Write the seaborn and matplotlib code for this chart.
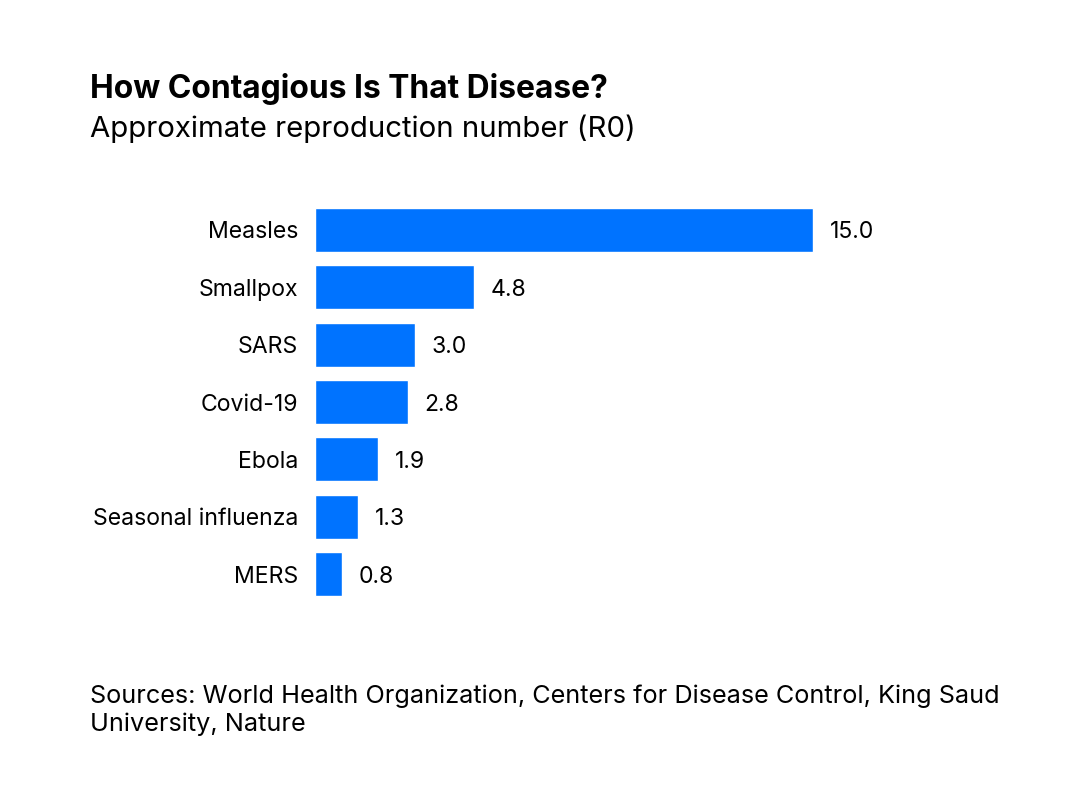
import matplotlib
matplotlib.use("Agg")
import seaborn as sns
import matplotlib.pyplot as plt
import pandas as pd

# data
diseases = ["Measles", "Smallpox", "SARS", "Covid-19", "Ebola", "Seasonal influenza", "MERS"]
r0 = [15.0, 4.8, 3.0, 2.8, 1.9, 1.3, 0.8]

title = "How Contagious Is That Disease?"
subtitle = "Approximate reproduction number (R0)"
source_lines = ["Sources: World Health Organization, Centers for Disease Control, King Saud",
                "University, Nature"]

sns.set_theme(style="white")
plt.rcParams['font.family'] = ['Inter', 'DejaVu Sans']
plt.rcParams['text.color'] = 'black'

df = pd.DataFrame({"disease": diseases, "r0": r0})

W, H = 1088, 805
fig = plt.figure(figsize=(W / 100, H / 100), dpi=100)
# axes placed in pixel coords
left, right, top, bottom = 315, 979, 201.3, 602.7
ax = fig.add_axes([left / W, 1 - bottom / H, (right - left) / W, (bottom - top) / H])

sns.barplot(data=df, x="r0", y="disease", orient="h", color="#0073FF",
            saturation=1, width=0.767, ax=ax)

for i, v in enumerate(r0):
    ax.annotate(f"{v:.1f}", (v, i), xytext=(12, 0), textcoords="offset points",
                va="center_baseline", ha="left", fontsize=16.6, color="black")

ax.set_xlim(0, 20)
ax.set_ylim(6.5, -0.5)
ax.set_xlabel("")
ax.set_ylabel("")
ax.set_xticks([])
ax.tick_params(axis="y", length=0, pad=12, labelsize=16.6, labelcolor="black")
for s in ax.spines.values():
    s.set_visible(False)

fig.text(90 / W, 1 - 98 / H, title, fontsize=22.9, fontweight="bold", ha="left", va="baseline")
fig.text(90 / W, 1 - 137 / H, subtitle, fontsize=21.15, ha="left", va="baseline")
for k, line in enumerate(source_lines):
    fig.text(90 / W, 1 - (703 + 28 * k) / H, line, fontsize=18.2, ha="left", va="baseline")

fig.savefig("out.png", dpi=100, facecolor="white")
